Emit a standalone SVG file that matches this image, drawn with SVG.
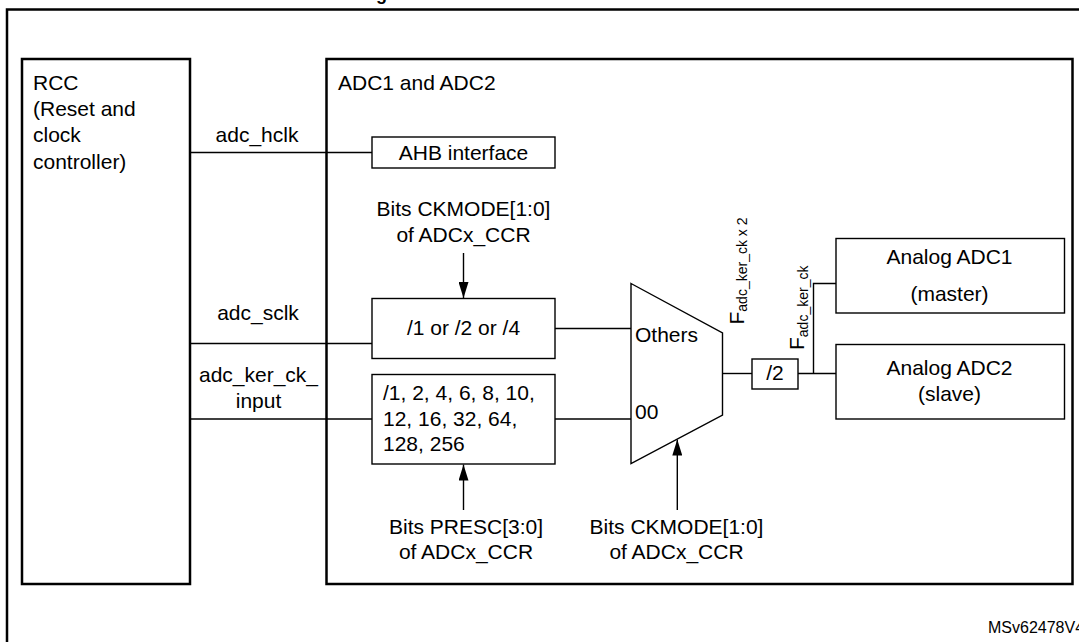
<svg xmlns="http://www.w3.org/2000/svg" width="1079" height="642" viewBox="0 0 1079 642">
<style>
text{font-family:"Liberation Sans",Arial,sans-serif;font-size:21px;fill:#000}
.c{text-anchor:middle}
.thick{fill:#fff;stroke:#000;stroke-width:2.5}
.box{fill:#fff;stroke:#000;stroke-width:1.4}
.ln{fill:none;stroke:#000;stroke-width:1.4}
.sub{font-size:14px}
</style>
<defs>
<marker id="arr" viewBox="0 0 16 10" refX="16" refY="5" markerWidth="16" markerHeight="10" orient="auto" markerUnits="userSpaceOnUse">
<path d="M0,0 L16,5 L0,10 Z" fill="#000"/>
</marker>
</defs>
<rect width="1079" height="642" fill="#fff"/>
<text x="376" y="0" style="font-weight:bold;font-size:18px">g</text>
<path d="M7,642 V9.5 H1079" fill="none" stroke="#000" stroke-width="2.5"/>
<g id="rcc">
<rect class="thick" x="22" y="59" width="168" height="525"/>
<text x="33" y="90">RCC</text>
<text x="33" y="116">(Reset and</text>
<text x="33" y="142">clock</text>
<text x="33" y="169">controller)</text>
</g>
<g id="adc">
<rect class="thick" x="326.5" y="59" width="746" height="525"/>
<text x="338" y="90">ADC1 and ADC2</text>
</g>
<g id="connectors">
<line class="ln" x1="190" y1="152.5" x2="372" y2="152.5"/>
<line class="ln" x1="190" y1="343.5" x2="372" y2="343.5"/>
<line class="ln" x1="190" y1="419" x2="372" y2="419"/>
<line class="ln" x1="555" y1="328.5" x2="631" y2="328.5"/>
<line class="ln" x1="555" y1="419" x2="631" y2="419"/>
<line class="ln" x1="722.5" y1="373.5" x2="752" y2="373.5"/>
<line class="ln" x1="798" y1="373.5" x2="836" y2="373.5"/>
<polyline class="ln" points="813.5,373.5 813.5,283.5 836,283.5"/>
<line class="ln" x1="463.5" y1="253" x2="463.5" y2="298" marker-end="url(#arr)"/>
<line class="ln" x1="463.5" y1="510" x2="463.5" y2="464.5" marker-end="url(#arr)"/>
<line class="ln" x1="677.3" y1="510" x2="677.3" y2="439.5" marker-end="url(#arr)"/>
</g>
<g id="labels">
<text class="c" x="257" y="142">adc_hclk</text>
<text class="c" x="258" y="320">adc_sclk</text>
<text class="c" x="258.5" y="382">adc_ker_ck_</text>
<text class="c" x="258.5" y="408">input</text>
<text transform="translate(743.5,324.5) rotate(-90)">F<tspan class="sub" dy="3.5">adc_ker_ck x 2</tspan></text>
<text transform="translate(804,350) rotate(-90)">F<tspan class="sub" dy="3.5">adc_ker_ck</tspan></text>
</g>
<g id="ahb">
<rect class="box" x="372" y="137" width="183" height="31"/>
<text class="c" x="463.5" y="160">AHB interface</text>
</g>
<g id="ckmode-top">
<text class="c" x="463.5" y="216">Bits CKMODE[1:0]</text>
<text class="c" x="463.5" y="242">of ADCx_CCR</text>
</g>
<g id="div124">
<rect class="box" x="372" y="298.5" width="183" height="60"/>
<text class="c" x="463.5" y="335">/1 or /2 or /4</text>
</g>
<g id="presc">
<rect class="box" x="372" y="374.5" width="183" height="89.5"/>
<text x="383" y="400">/1, 2, 4, 6, 8, 10,</text>
<text x="383" y="426">12, 16, 32, 64,</text>
<text x="383" y="451">128, 256</text>
</g>
<g id="presc-label">
<text class="c" x="466" y="534">Bits PRESC[3:0]</text>
<text class="c" x="466" y="559">of ADCx_CCR</text>
</g>
<g id="mux">
<polygon class="box" points="631,283.5 722.5,333 722.5,415 631,463.5"/>
<text x="635" y="342">Others</text>
<text x="635" y="418.5">00</text>
</g>
<g id="ckmode-bottom">
<text class="c" x="676.5" y="533.5">Bits CKMODE[1:0]</text>
<text class="c" x="676.5" y="559">of ADCx_CCR</text>
</g>
<g id="div2">
<rect class="box" x="752" y="359" width="46" height="30"/>
<text class="c" x="775" y="380">/2</text>
</g>
<g id="adc1">
<rect class="box" x="836" y="238.5" width="228.5" height="74.5"/>
<text class="c" x="949.5" y="263.5">Analog ADC1</text>
<text class="c" x="949.5" y="301">(master)</text>
</g>
<g id="adc2">
<rect class="box" x="836" y="344.5" width="228.5" height="74.5"/>
<text class="c" x="949.5" y="375">Analog ADC2</text>
<text class="c" x="949.5" y="401">(slave)</text>
</g>
<text x="988" y="633" style="font-size:16px">MSv62478V4</text>
</svg>
